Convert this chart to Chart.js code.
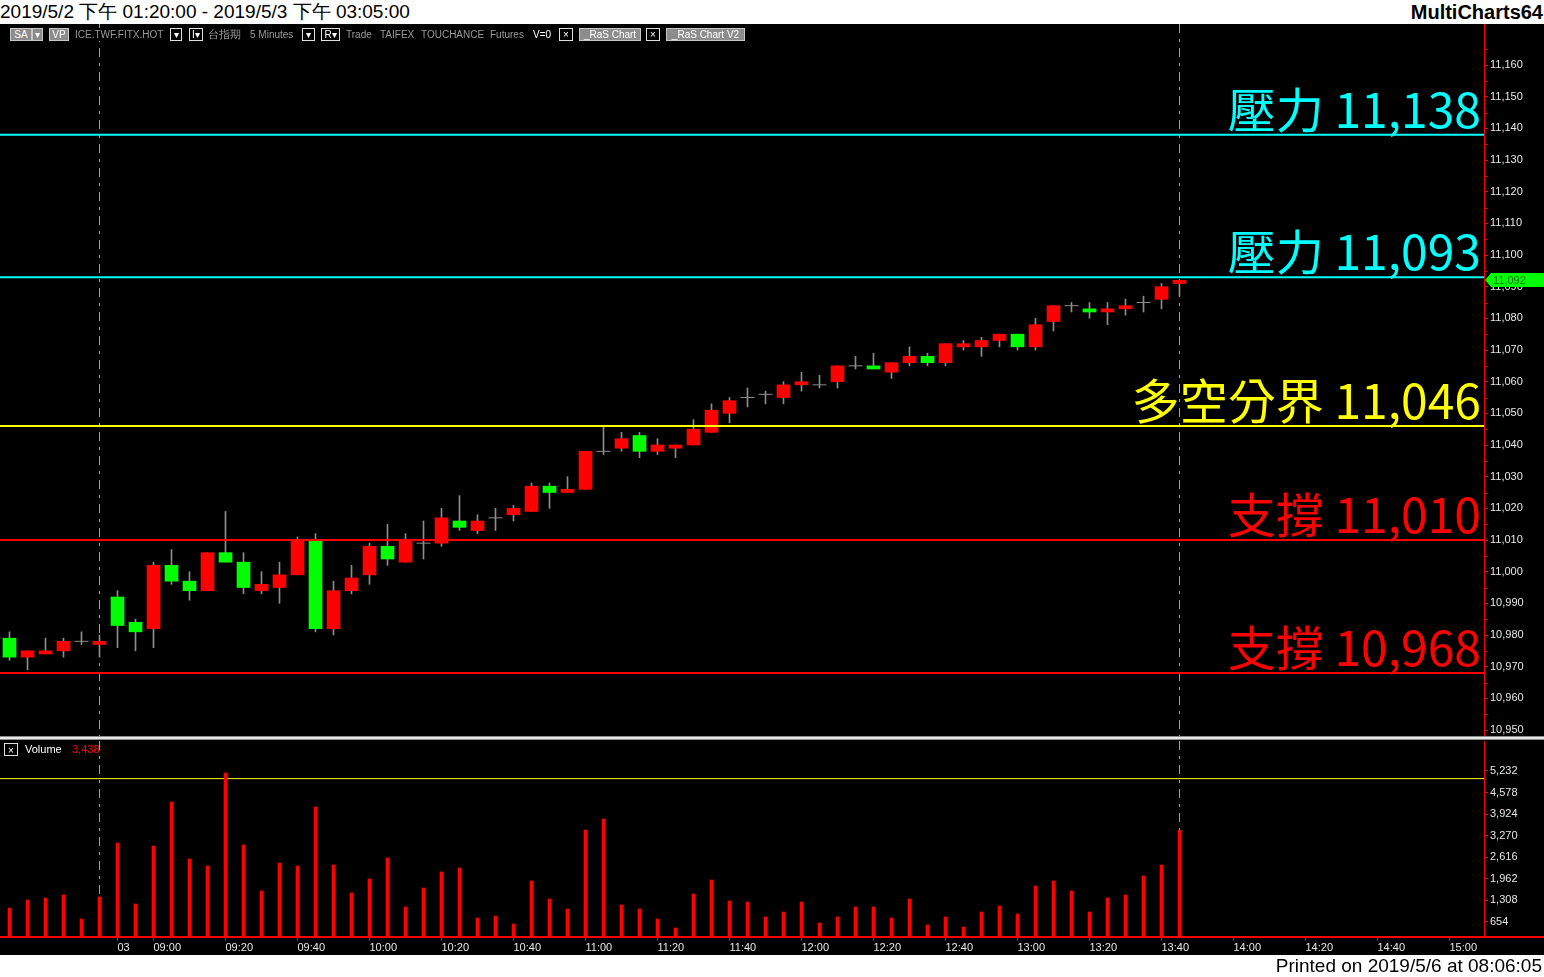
<!DOCTYPE html>
<html>
<head>
<meta charset="utf-8">
<script src="https://cdn.jsdelivr.net/npm/chart.js@4.4.0/dist/chart.umd.min.js"></script>
<style>
html, body { margin: 0; padding: 0; background: #fff; }
#wrap { position: relative; width: 1544px; height: 977px; overflow: hidden; background: #fff; font-family: "Liberation Sans", Arial, sans-serif; }
#head { position: absolute; left: 0; top: 0; width: 1544px; height: 24px; line-height: 24px; font-size: 19px; color: #000; white-space: nowrap; }
#head .r { position: absolute; right: 1px; top: 0; font-weight: bold; font-size: 20px; }
#black { position: absolute; left: 0; top: 24px; width: 1544px; height: 931px; background: #000; }
#priceChart { position: absolute; left: 0; top: 24px; }
#volChart { position: absolute; left: 0; top: 741px; }
#divider { position: absolute; left: 0; top: 736px; width: 1544px; height: 4px; background: linear-gradient(#8a8a8a 0, #8a8a8a 1px, #e8e8e8 1px, #e8e8e8 3px, #8a8a8a 3px); }
#foot { position: absolute; left: 0; top: 955px; width: 1542px; height: 22px; line-height: 22px; font-size: 19px; color: #000; text-align: right; }
.tb { position: absolute; top: 28px; height: 13px; line-height: 13px; font-size: 10px; color: #9a9a9a; background: #000; white-space: nowrap; box-sizing: border-box; }
.gb { background: #8c8c8c; color: #fff; border: 1px solid #c8c8c8; text-align: center; line-height: 11px; }
.bx { border: 1px solid #e0e0e0; color: #fff; text-align: center; line-height: 11px; }
.leg { position: absolute; top: 743px; height: 13px; line-height: 13px; font-size: 11px; color: #fff; white-space: nowrap; box-sizing: border-box; }
</style>
</head>
<body>
<div id="wrap">
  <div id="head">2019/5/2 下午 01:20:00 - 2019/5/3 下午 03:05:00<span class="r">MultiCharts64</span></div>
  <div id="black"></div>

  <canvas id="priceChart" width="1544" height="713"></canvas>
  <div id="divider"></div>
  <canvas id="volChart" width="1544" height="214"></canvas>

  <span class="tb gb" style="left:10px;width:22px">SA</span>
  <span class="tb gb" style="left:32px;width:11px">▾</span>
  <span class="tb gb" style="left:49px;width:20px">VP</span>
  <span class="tb" style="left:75px">ICE.TWF.FITX.HOT</span>
  <span class="tb bx" style="left:170px;width:12px">▾</span>
  <span class="tb bx" style="left:189px;width:14px">I▾</span>
  <span class="tb" style="left:208px;font-size:11px">台指期</span>
  <span class="tb" style="left:250px">5 Minutes</span>
  <span class="tb bx" style="left:302px;width:13px">▾</span>
  <span class="tb bx" style="left:321px;width:19px">R▾</span>
  <span class="tb" style="left:346px">Trade</span>
  <span class="tb" style="left:380px">TAIFEX</span>
  <span class="tb" style="left:421px">TOUCHANCE</span>
  <span class="tb" style="left:490px">Futures</span>
  <span class="tb" style="left:533px;color:#fff">V=0</span>
  <span class="tb bx" style="left:559px;width:14px">×</span>
  <span class="tb gb" style="left:579px;width:62px">_RaS Chart</span>
  <span class="tb bx" style="left:646px;width:14px">×</span>
  <span class="tb gb" style="left:666px;width:79px">_RaS Chart V2</span>

  <span class="leg bx" style="left:4px;width:14px;font-size:10px">×</span>
  <span class="leg" style="left:25px">Volume</span>
  <span class="leg" id="volLast" style="left:72px;color:#ff0000"></span>

  <div id="foot">Printed on 2019/5/6 at 08:06:05</div>
</div>

<script>
// 5 minute bars, 2019/5/2 13:20 .. 2019/5/3 13:45
const opens  = [10979,10973,10974,10975,10978,10977,10992,10984,10982,11002,10997,10994,11006,11003,10994,10995,10999,11010,10982,10994,10999,11008,11003,11009,11009,11016,11013,11017,11018,11019,11027,11025,11026,11038,11039,11043,11038,11039,11040,11044,11050,11055,11056,11055,11059,11059,11060,11065,11065,11063,11066,11068,11066,11071,11071,11073,11075,11071,11079,11084,11083,11082,11083,11085,11086,11091];
const highs  = [10981,10975,10979,10979,10981,10980,10994,10985,11003,11007,11000,11006,11019,11006,11000,11003,11011,11012,10997,11002,11009,11015,11012,11016,11020,11024,11018,11020,11021,11028,11028,11030,11038,11046,11044,11044,11042,11040,11048,11053,11055,11058,11057,11060,11063,11062,11065,11068,11069,11066,11071,11069,11072,11073,11074,11075,11075,11080,11084,11085,11085,11085,11086,11087,11091,11092];
const lows   = [10972,10969,10974,10973,10977,10973,10976,10975,10976,10996,10991,10994,11003,10993,10993,10990,10999,10981,10980,10993,10996,11002,11003,11004,11008,11013,11012,11013,11016,11019,11020,11025,11026,11037,11038,11036,11037,11036,11040,11044,11047,11052,11053,11053,11057,11058,11058,11064,11064,11061,11065,11065,11065,11070,11068,11071,11070,11070,11076,11082,11080,11078,11081,11082,11083,11087];
const closes = [10973,10975,10975,10978,10978,10978,10983,10981,11002,10997,10994,11006,11003,10995,10996,10999,11010,10982,10994,10998,11008,11004,11010,11009,11017,11014,11016,11017,11020,11027,11025,11026,11038,11038,11042,11038,11040,11040,11045,11051,11054,11055,11056,11059,11060,11059,11065,11065,11064,11066,11068,11066,11072,11072,11073,11075,11071,11078,11084,11084,11082,11083,11084,11085,11090,11092];
const volumes = [1078,1321,1382,1473,745,1412,3049,1200,2958,4292,2564,2352,5172,2989,1594,2443,2352,4141,2382,1533,1958,2594,1109,1685,2170,2291,775,836,593,1897,1351,1048,3443,3777,1169,1048,745,472,1503,1927,1291,1260,806,957,1260,624,806,1109,1109,775,1351,563,806,502,957,1139,897,1745,1897,1594,957,1382,1473,2049,2382,3438];

// time axis
const tickIdx  = [6, 8, 12, 16, 20, 24, 28, 32, 36, 40, 44, 48, 52, 56, 60, 64, 68, 72, 76, 80];
const tickText = ['03','09:00','09:20','09:40','10:00','10:20','10:40','11:00','11:20','11:40','12:00','12:20','12:40','13:00','13:20','13:40','14:00','14:20','14:40','15:00'];
const sessionBreaks = [5, 65];

// price axis
const priceTicks = [10950,10960,10970,10980,10990,11000,11010,11020,11030,11040,11050,11060,11070,11080,11090,11100,11110,11120,11130,11140,11150,11160];
const levels     = [11138, 11093, 11046, 11010, 10968];
const levelNames = ['壓力', '壓力', '多空分界', '支撐', '支撐'];

// volume axis
const volTicks = [654, 1308, 1962, 2616, 3270, 3924, 4578, 5232];
const volAlert = 5000;

// ---- view settings ----
const X_MIN = -0.5278, X_MAX = 81.917;
const PRICE_MIN = 10947.79, PRICE_MAX = 11172.95;
const VOL_MIN = 199, VOL_MAX = 6141.5;
const UP = '#ff0000', DOWN = '#00ff00', WICK = '#8c8c8c';
const levelColors = ['#00ffff', '#00ffff', '#ffff00', '#ff0000', '#ff0000'];
const AXIS_FONT = { family: 'Liberation Sans', size: 11 };
const last = closes.length - 1;

const fmt = v => Number(v).toLocaleString('en-US');

const wickData = [], bodyData = [], bodyColors = [], dojiData = [];
opens.forEach((o, i) => {
    wickData.push({ x: i, y: [lows[i], highs[i]] });
    if (o === closes[i]) {
        dojiData.push({ x: i, y: o });
    } else {
        bodyData.push({ x: i, y: [o, closes[i]] });
        bodyColors.push(closes[i] > o ? UP : DOWN);
    }
});

function hLine(value) {
    return [{ x: X_MIN, y: value }, { x: X_MAX, y: value }];
}

function rightAxis(scale) {
    scale.width = 60;
    scale.paddingTop = 0;
    scale.paddingBottom = 0;
}

const sessionLines = {
    id: 'sessionLines',
    beforeDatasetsDraw(chart) {
        const { ctx, chartArea, scales: { x } } = chart;
        ctx.save();
        ctx.strokeStyle = '#a0a0a0';
        ctx.lineWidth = 1;
        ctx.setLineDash([9, 6, 3, 6]);
        sessionBreaks.forEach(i => {
            const px = Math.floor(x.getPixelForValue(i)) + 0.5;
            ctx.beginPath();
            ctx.moveTo(px, chartArea.top);
            ctx.lineTo(px, chartArea.bottom);
            ctx.stroke();
        });
        ctx.restore();
    }
};

// small marks halfway between the labelled price ticks
const minorTicks = {
    id: 'minorTicks',
    afterDraw(chart) {
        const { ctx, chartArea, scales: { y } } = chart;
        ctx.save();
        ctx.fillStyle = '#ff0000';
        priceTicks.forEach(v => {
            const py = Math.round(y.getPixelForValue(v + 5));
            if (py > chartArea.top) ctx.fillRect(chartArea.right, py, 3, 1);
        });
        ctx.restore();
    }
};

const levelLabels = {
    id: 'levelLabels',
    afterDatasetsDraw(chart) {
        const { ctx, chartArea, scales: { y } } = chart;
        ctx.save();
        ctx.font = '48px "Noto Sans CJK TC"';
        ctx.textAlign = 'right';
        ctx.textBaseline = 'alphabetic';
        levels.forEach((lv, k) => {
            ctx.fillStyle = levelColors[k];
            ctx.fillText(levelNames[k] + ' ' + fmt(lv), chartArea.right - 3, y.getPixelForValue(lv) - 7);
        });
        ctx.restore();
    }
};

const lastPrice = {
    id: 'lastPrice',
    afterDraw(chart) {
        const { ctx, chartArea, scales: { y } } = chart;
        const py = Math.round(y.getPixelForValue(closes[last]));
        const x0 = chartArea.right + 1;
        ctx.save();
        ctx.fillStyle = '#00ff00';
        ctx.beginPath();
        ctx.moveTo(x0, py);
        ctx.lineTo(x0 + 6, py - 7);
        ctx.lineTo(chart.width, py - 7);
        ctx.lineTo(chart.width, py + 7);
        ctx.lineTo(x0 + 6, py + 7);
        ctx.closePath();
        ctx.fill();
        ctx.fillStyle = '#007000';
        ctx.font = '11px "Liberation Sans"';
        ctx.textBaseline = 'middle';
        ctx.fillText(fmt(closes[last]), x0 + 8, py + 1);
        ctx.restore();
    }
};

const baseLine = {
    id: 'baseLine',
    afterDraw(chart) {
        const { ctx, chartArea } = chart;
        ctx.save();
        ctx.fillStyle = '#ff0000';
        ctx.fillRect(0, chartArea.bottom - 1, chart.width, 2);
        ctx.restore();
    }
};

const priceChart = new Chart(document.getElementById('priceChart').getContext('2d'), {
    type: 'bar',
    data: {
        datasets: [
            { type: 'bar', data: wickData, backgroundColor: WICK, barThickness: 1, grouped: false, borderWidth: 0, order: 4 },
            { type: 'bar', data: bodyData, backgroundColor: bodyColors, barThickness: 13, grouped: false, borderWidth: 0, order: 3 },
            { type: 'scatter', data: dojiData, pointStyle: 'line', pointRadius: 7, borderColor: WICK, borderWidth: 1, order: 2 },
            ...levels.map((lv, k) => ({ type: 'line', data: hLine(lv), borderColor: levelColors[k], borderWidth: 2, pointRadius: 0, order: 1 }))
        ]
    },
    options: {
        responsive: false, animation: false, devicePixelRatio: 1,
        layout: { padding: 0, autoPadding: false },
        plugins: { legend: { display: false }, tooltip: { enabled: false } },
        scales: {
            x: { type: 'linear', min: X_MIN, max: X_MAX, offset: false, display: false },
            y: {
                position: 'right', min: PRICE_MIN, max: PRICE_MAX,
                afterBuildTicks: s => { s.ticks = priceTicks.map(v => ({ value: v })); },
                afterFit: rightAxis,
                grid: { drawOnChartArea: false, tickLength: 4, color: '#ff0000' },
                border: { color: '#ff0000' },
                ticks: { color: '#e6e6e6', font: AXIS_FONT, padding: 2, callback: v => fmt(v) }
            }
        }
    },
    plugins: [sessionLines, levelLabels, minorTicks, lastPrice]
});

const volChart = new Chart(document.getElementById('volChart').getContext('2d'), {
    type: 'bar',
    data: {
        datasets: [
            { type: 'bar', data: volumes.map((v, i) => ({ x: i, y: v })), backgroundColor: '#ff0000', barThickness: 3, grouped: false, borderWidth: 0, order: 2 },
            { type: 'line', data: hLine(volAlert), borderColor: '#ffff00', borderWidth: 1, pointRadius: 0, order: 3 }
        ]
    },
    options: {
        responsive: false, animation: false, devicePixelRatio: 1,
        layout: { padding: 0, autoPadding: false },
        plugins: { legend: { display: false }, tooltip: { enabled: false } },
        scales: {
            x: {
                type: 'linear', min: X_MIN, max: X_MAX, offset: false,
                afterBuildTicks: s => { s.ticks = tickIdx.map(v => ({ value: v })); },
                afterFit: s => { s.height = 18; s.paddingLeft = 0; s.paddingRight = 0; },
                grid: { drawOnChartArea: false, tickLength: 4, color: '#ff0000', offset: false },
                border: { color: '#ff0000' },
                ticks: { color: '#e8e8e8', font: AXIS_FONT, padding: 0, align: 'start', autoSkip: false, maxRotation: 0,
                         callback: (v, idx) => tickText[idx] }
            },
            y: {
                position: 'right', min: VOL_MIN, max: VOL_MAX,
                afterBuildTicks: s => { s.ticks = volTicks.map(v => ({ value: v })); },
                afterFit: rightAxis,
                grid: { drawOnChartArea: false, tickLength: 4, color: '#ff0000' },
                border: { color: '#ff0000' },
                ticks: { color: '#e6e6e6', font: AXIS_FONT, padding: 2, callback: v => fmt(v) }
            }
        }
    },
    plugins: [sessionLines, baseLine]
});

document.getElementById('volLast').textContent = fmt(volumes[last]);
</script>
</body>
</html>
